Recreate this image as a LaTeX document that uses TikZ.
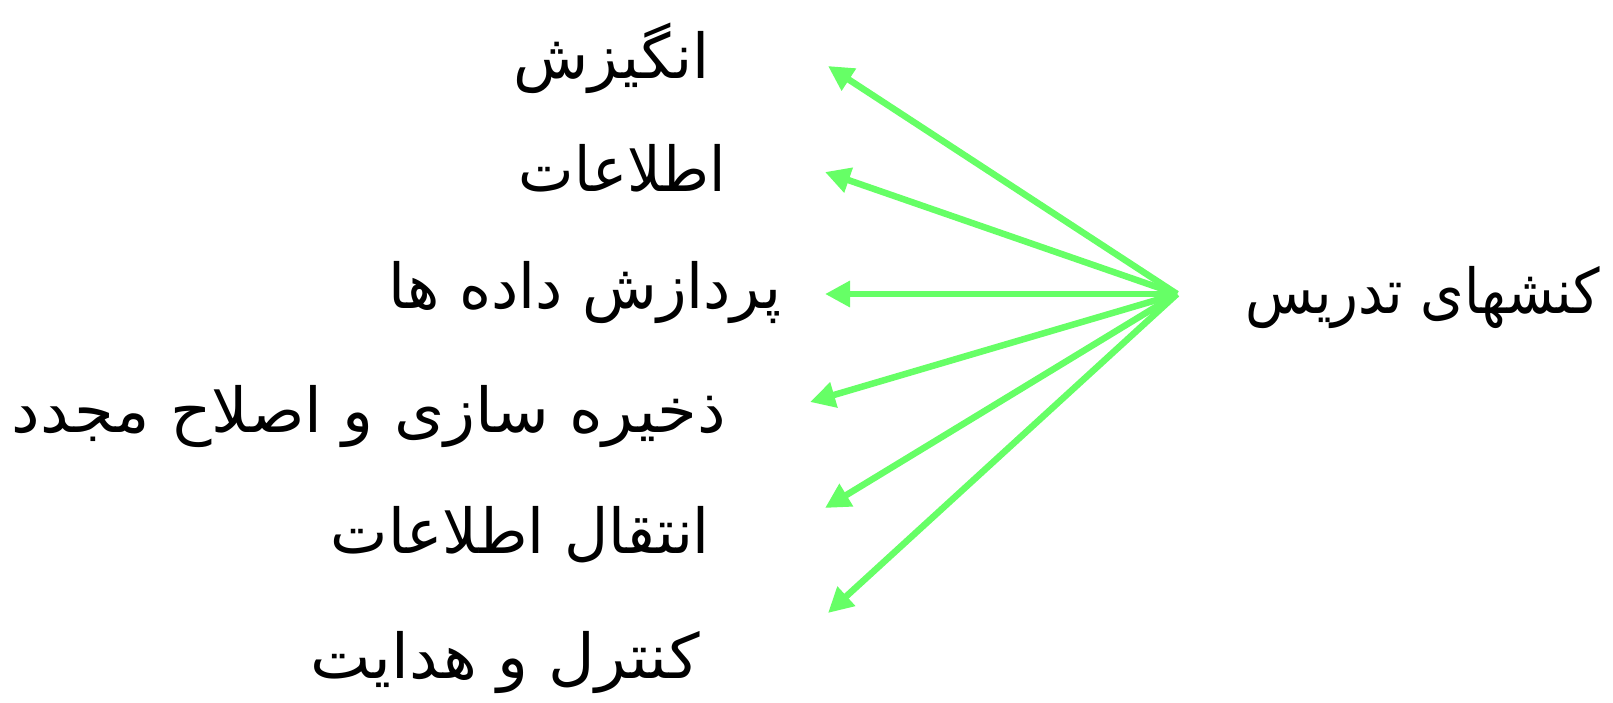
\documentclass[tikz,border=0pt]{standalone}
\usepackage{fontspec}
\usetikzlibrary{arrows.meta}
\newfontfamily\arabicfont[Script=Arabic]{DejaVu Sans}
\TeXXeTstate=1
\definecolor{arrgreen}{HTML}{66FF66}
\newcommand{\fitw}[2]{\resizebox{#1pt}{\height}{#2}}
\begin{document}
\begin{tikzpicture}[x=1pt,y=-1pt,
  lbl/.style={inner sep=0pt,anchor=east,font=\arabicfont\fontsize{62}{70}\selectfont},
  arr/.style={draw=arrgreen,line width=6.5pt,-{Triangle[length=25pt,width=25pt]}}]
\useasboundingbox (0,0) rectangle (1613,702);
\node[lbl] (t1) at (710,58) {\fitw{196}{\beginR انگیزش\endR}};
\node[lbl] (t2) at (726,168) {\fitw{207}{\beginR اطلاعات\endR}};
\node[lbl] (t3) at (782,293) {\fitw{393}{\beginR پردازش داده ها\endR}};
\node[lbl] (t4) at (726,417) {\fitw{714}{\beginR ذخیره سازی و اصلاح مجدد\endR}};
\node[lbl] (t5) at (710,535) {\fitw{379}{\beginR انتقال اطلاعات\endR}};
\node[lbl] (t6) at (700,663) {\fitw{389}{\beginR کنترل و هدایت\endR}};
\node[lbl,anchor=west] (src) at (1245,298) {\fitw{355}{\beginR کنشهای تدریس\endR}};
\coordinate (o) at (1177,294);
\coordinate (a1) at (828,66);
\coordinate (a2) at (825,172);
\coordinate (a3) at (825,294);
\coordinate (a4) at (810,402);
\coordinate (a5) at (825,508);
\coordinate (a6) at (828,613);
\foreach \i in {1,...,6} \draw[arr] (o) -- (a\i);
\end{tikzpicture}
\end{document}
